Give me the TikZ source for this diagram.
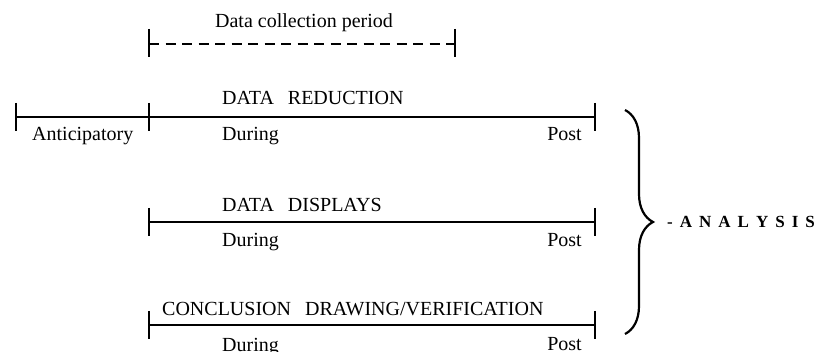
\documentclass[tikz,border=0pt]{standalone}
\usepackage{fontspec}
\setmainfont{Liberation Serif}
\usetikzlibrary{decorations.pathreplacing}
\begin{document}
\begin{tikzpicture}[x=1pt,y=-1pt,
  tl/.style={line width=2.2pt},
  tick/.style={line width=2.2pt},
  lbl/.style={inner sep=0pt,font=\fontsize{20}{23}\selectfont}]
\useasboundingbox (0,0) rectangle (819,352);
% dashed data collection period
\coordinate (dA) at (149,44);
\coordinate (dB) at (455,44);
\draw[tick] (149,29) -- (149,57);
\draw[tick] (455,29) -- (455,57);
\draw[tl,dash pattern=on 10pt off 6.5pt] (dA) -- (dB);
\node[lbl,anchor=base] (dcp) at (304,28) {Data collection period};
% line 1
\coordinate (a0) at (16,117);
\coordinate (a1) at (149,117);
\coordinate (a2) at (595,117);
\foreach \x in {16,149,595} \draw[tick] (\x,103) -- (\x,131);
\draw[tl] (a0) -- (a2);
\node[lbl,anchor=base west] (red) at (222,105) {DATA\hspace{0.7em}REDUCTION};
\node[lbl,anchor=base west] (ant) at (32,141) {Anticipatory};
\node[lbl,anchor=base west] (dur1) at (222,141) {During};
\node[lbl,anchor=base east] (post1) at (582,141) {Post};
% line 2
\coordinate (b1) at (149,222);
\coordinate (b2) at (595,222);
\foreach \x in {149,595} \draw[tick] (\x,208) -- (\x,236);
\draw[tl] (b1) -- (b2);
\node[lbl,anchor=base west] (disp) at (222,212) {DATA\hspace{0.7em}DISPLAYS};
\node[lbl,anchor=base west] (dur2) at (222,247) {During};
\node[lbl,anchor=base east] (post2) at (582,247) {Post};
% line 3
\coordinate (c1) at (149,325);
\coordinate (c2) at (595,325);
\foreach \x in {149,595} \draw[tick] (\x,311) -- (\x,339);
\draw[tl] (c1) -- (c2);
\node[lbl,anchor=base west] (concl) at (162,316) {CONCLUSION\hspace{0.7em}DRAWING/VERIFICATION};
\node[lbl,anchor=base west] (dur3) at (222,352) {During};
\node[lbl,anchor=base east] (post3) at (582,351) {Post};
% brace
\coordinate (brT) at (625,110);
\coordinate (brB) at (625,334);
\draw[line width=2.2pt,decorate,decoration={brace,amplitude=28pt}] (brT) -- (brB);
\node[inner sep=0pt,anchor=base west,font=\fontsize{17}{20}\selectfont\bfseries] (an) at (667,228)
  {-\hspace{7pt}A\hspace{7pt}N\hspace{7pt}A\hspace{7pt}L\hspace{7pt}Y\hspace{7pt}S\hspace{7pt}I\hspace{7pt}S};
\end{tikzpicture}
\end{document}
